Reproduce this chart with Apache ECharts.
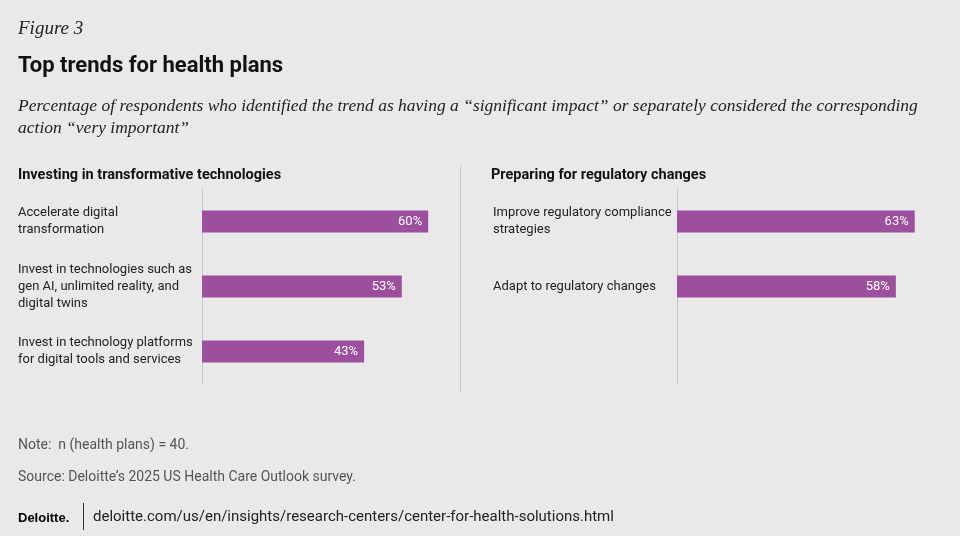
<!DOCTYPE html>
<html>
<head>
<meta charset="utf-8">
<script src="https://cdn.jsdelivr.net/npm/echarts@6/dist/echarts.min.js"></script>
<style>
  html, body { margin: 0; padding: 0; background: #e9e9e9; }
  #chart { width: 960px; height: 536px; }
</style>
</head>
<body>
<div id="chart"></div>
<script>
// data
const leftCategories = [
  'Accelerate digital\ntransformation',
  'Invest in technologies such as\ngen AI, unlimited reality, and\ndigital twins',
  'Invest in technology platforms\nfor digital tools and services'
];
const leftValues = [60, 53, 43];
const rightCategories = [
  'Improve regulatory compliance\nstrategies',
  'Adapt to regulatory changes',
  ''
];
const rightValues = [63, 58, null];

const barColor = '#9c4f9c';
const font = 'Roboto';

const chart = echarts.init(document.getElementById('chart'));

function yAxisFor(idx, cats) {
  return {
    gridIndex: idx,
    type: 'category',
    inverse: true,
    data: cats,
    axisTick: { show: false },
    axisLine: { lineStyle: { color: '#c8c8c8', width: 1 } },
    axisLabel: {
      align: 'left',
      margin: 184,
      color: '#222',
      fontFamily: font,
      fontSize: 13,
      lineHeight: 17
    }
  };
}
function xAxisFor(idx, max) {
  return {
    gridIndex: idx, type: 'value', min: 0, max: max,
    show: false, splitLine: { show: false }
  };
}
function barSeries(idx, vals) {
  return {
    type: 'bar', xAxisIndex: idx, yAxisIndex: idx,
    data: vals, barWidth: 22,
    itemStyle: { color: barColor },
    label: {
      show: true, position: 'insideRight', distance: 6,
      color: '#fff', fontFamily: font, fontSize: 13,
      formatter: p => p.value + '%'
    }
  };
}

const optionData = {
  backgroundColor: '#e9e9e9',
  animation: false,
  title: [
    { text: 'Figure 3', left: 13, top: 14,
      textStyle: { fontFamily: 'Liberation Serif', fontStyle: 'italic', fontWeight: 'normal', fontSize: 19, color: '#222' } },
    { text: 'Top trends for health plans', left: 13, top: 50,
      textStyle: { fontFamily: font, fontWeight: 'bold', fontSize: 22, color: '#111' } },
    { text: 'Percentage of respondents who identified the trend as having a \u201csignificant impact\u201d or separately considered the corresponding\naction \u201cvery important\u201d',
      left: 13, top: 90,
      textStyle: { fontFamily: 'Liberation Serif', fontStyle: 'italic', fontWeight: 'normal', fontSize: 17.5, lineHeight: 22, color: '#222' } },
    { text: 'Investing in transformative technologies', left: 13, top: 163,
      textStyle: { fontFamily: font, fontWeight: 'bold', fontSize: 14.5, color: '#111' } },
    { text: 'Preparing for regulatory changes', left: 486, top: 163,
      textStyle: { fontFamily: font, fontWeight: 'bold', fontSize: 14.5, color: '#111' } },
    { text: 'Note:  n (health plans) = 40.', left: 13, top: 433,
      textStyle: { fontFamily: font, fontWeight: 'normal', fontSize: 14, color: '#555' } },
    { text: 'Source: Deloitte\u2019s 2025 US Health Care Outlook survey.', left: 13, top: 465,
      textStyle: { fontFamily: font, fontWeight: 'normal', fontSize: 14, color: '#555' } },
    { text: 'Deloitte.', left: 13, top: 507,
      textStyle: { fontFamily: 'Liberation Sans', fontWeight: 'bold', fontSize: 13, color: '#000' } },
    { text: 'deloitte.com/us/en/insights/research-centers/center-for-health-solutions.html', left: 88, top: 505,
      textStyle: { fontFamily: font, fontWeight: 'normal', fontSize: 15, color: '#222' } }
  ],
  graphic: [
    { type: 'line', shape: { x1: 460.5, y1: 165, x2: 460.5, y2: 393 }, style: { stroke: '#c8c8c8', lineWidth: 1 } },
    { type: 'line', shape: { x1: 83.5, y1: 503, x2: 83.5, y2: 530 }, style: { stroke: '#333', lineWidth: 1 } }
  ],
  grid: [
    { left: 202, top: 189, width: 377, height: 195 },
    { left: 677, top: 189, width: 283, height: 195 }
  ],
  xAxis: [xAxisFor(0, 100), xAxisFor(1, 75)],
  yAxis: [yAxisFor(0, leftCategories), yAxisFor(1, rightCategories)],
  series: [barSeries(0, leftValues), barSeries(1, rightValues)]
};

chart.setOption(optionData);
</script>
</body>
</html>
